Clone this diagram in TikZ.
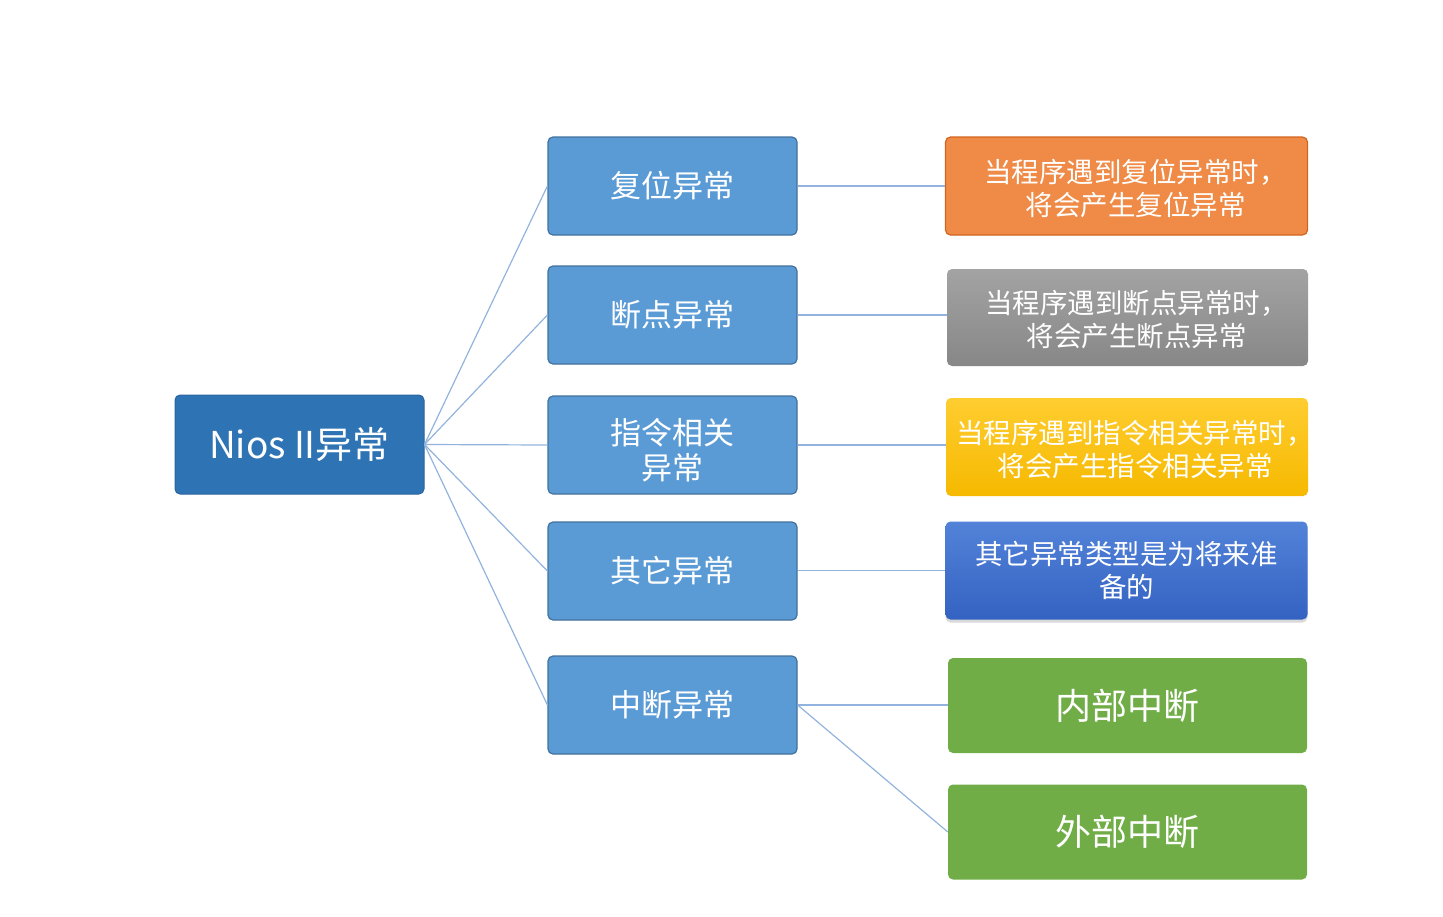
\documentclass[tikz,border=0pt]{standalone}
\usepackage{fontspec}
\setmainfont{Noto Sans CJK SC}
\usetikzlibrary{shadows}
\definecolor{rootblue}{HTML}{2E74B5}
\definecolor{rootborder}{HTML}{2A659E}
\definecolor{midblue}{HTML}{5B9BD5}
\definecolor{midborder}{HTML}{41719C}
\definecolor{orangef}{HTML}{EF8B47}
\definecolor{oranged}{HTML}{D2641F}
\definecolor{graytop}{HTML}{A3A3A3}
\definecolor{graybot}{HTML}{878787}
\definecolor{yeltop}{HTML}{FFCD30}
\definecolor{yelbot}{HTML}{F6B900}
\definecolor{bluetop}{HTML}{5283D8}
\definecolor{bluebot}{HTML}{3462C2}
\definecolor{greenf}{HTML}{70AD47}
\definecolor{linkc}{HTML}{92B3DD}
\tikzset{
  base/.style={rectangle, rounded corners=5pt, text=white, align=center, inner sep=0pt},
  rootbox/.style={base, fill=rootblue, draw=rootborder, line width=1pt, minimum width=249pt, minimum height=99pt, font=\fontsize{37}{40}\selectfont},
  midbox/.style={base, fill=midblue, draw=midborder, line width=1.2pt, minimum width=249pt, minimum height=98pt, font=\fontsize{31}{35}\selectfont},
  midtext/.style={text=white, align=center, inner sep=0pt, yshift=-5pt, font=\fontsize{31}{35}\selectfont},
  rightbox/.style={base, minimum width=362pt, minimum height=98pt, font=\fontsize{27}{33}\selectfont},
  righttext/.style={text=white, align=center, inner sep=0pt, xshift=9pt, yshift=-2.5pt, font=\fontsize{27.5}{33}\selectfont},
  greenbox/.style={base, fill=greenf, minimum width=359pt, minimum height=95pt, font=\fontsize{36}{40}\selectfont},
  link/.style={draw=linkc, line width=1.2pt},
}
\begin{document}
\begin{tikzpicture}[x=1pt,y=-1pt]
\useasboundingbox (0,0) rectangle (1443,916);
\node[rootbox] (root) at (299.5,444.5) {Nios II异常};
\node[midbox] (m1) at (672.5,186) {复位异常};
\node[midbox] (m2) at (672.5,315) {断点异常};
\node[midbox, label={[midtext]center:指令相关\\异常}] (m3) at (672.5,445) {};
\node[midbox] (m4) at (672.5,571) {其它异常};
\node[midbox] (m5) at (672.5,705) {中断异常};
\node[rightbox, fill=orangef, draw=oranged, line width=1.2pt,
  label={[righttext]center:当程序遇到复位异常时，\\将会产生复位异常}] (r1) at (1126.5,186) {};
\node[rightbox, top color=graytop, bottom color=graybot, minimum width=361pt, minimum height=97pt,
  label={[righttext]center:当程序遇到断点异常时，\\将会产生断点异常}] (r2) at (1127.5,317.5) {};
\node[rightbox, top color=yeltop, bottom color=yelbot,
  label={[righttext, xshift=-1pt]center:当程序遇到指令相关异常时，\\将会产生指令相关异常}] (r3) at (1127,447) {};
\node[rightbox, top color=bluetop, bottom color=bluebot, drop shadow={opacity=0.3, shadow xshift=0pt, shadow yshift=-3pt}, font=\fontsize{27.5}{33}\selectfont] (r4) at (1126.5,570.5) {其它异常类型是为将来准\\备的};
\node[greenbox] (g1) at (1127.5,705.5) {内部中断};
\node[greenbox] (g2) at (1127.5,832) {外部中断};
\foreach \m in {m1,m2,m3,m4,m5}{\draw[link] (root.east) -- (\m.west);}
\draw[link] (m1.east) -- (r1.west);
\draw[link] (m2.east) -- (m2.east -| r2.west);
\draw[link] (m3.east) -- (m3.east -| r3.west);
\draw[link] (m4.east |- r4.west) -- (r4.west);
\draw[link] (m5.east) -- (m5.east -| g1.west);
\draw[link] (m5.east) -- (g2.west);
\end{tikzpicture}
\end{document}
